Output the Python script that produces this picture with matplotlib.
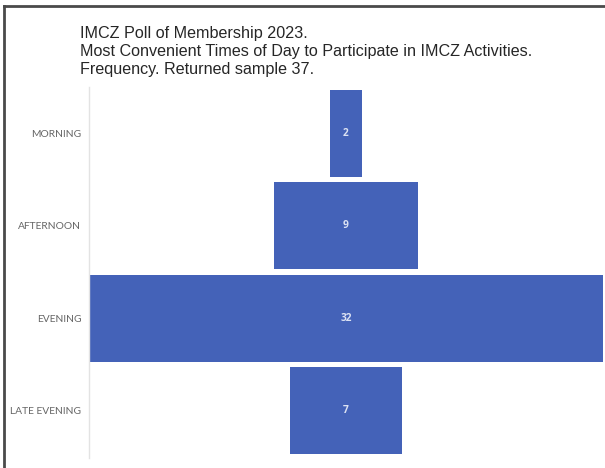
import matplotlib
matplotlib.use("Agg")
import matplotlib.pyplot as plt
from matplotlib.lines import Line2D

categories = ["MORNING", "AFTERNOON", "EVENING", "LATE EVENING"]
values = [2, 9, 32, 7]
title_lines = ["IMCZ Poll of Membership 2023.",
               "Most Convenient Times of Day to Participate in IMCZ Activities.",
               "Frequency. Returned sample 37."]

W, H = 605, 468
fig = plt.figure(figsize=(W / 100, H / 100), dpi=100)
ax = fig.add_axes([89 / W, 1 - 458 / H, (603 - 89) / W, (458 - 87) / H])

color = "#4462B8"
ys = list(range(len(categories)))
ax.barh(ys, values, left=[-v / 2 for v in values], height=0.94, color=color)
for y, v in zip(ys, values):
    ax.text(0, y, str(v), ha="center", va="center", color="#DCE2F3",
            fontsize=7.3, family="Open Sans", fontweight="bold")

ax.set_xlim(-max(values) / 2, max(values) / 2)
ax.set_ylim(3.51, -0.5)
ax.set_yticks(ys)
ax.set_yticklabels(categories, fontsize=7.4, color="#666666", family="Lato")
ax.tick_params(axis="y", length=0, pad=5.5)
ax.set_xticks([])
for s in ["top", "right", "bottom"]:
    ax.spines[s].set_visible(False)
ax.spines["left"].set_color("#E3E3E3")
ax.spines["left"].set_linewidth(1.0)

fig.text(80 / W, 1 - 26 / H, "\n".join(title_lines), ha="left", va="top",
         fontsize=11.6, family="Liberation Sans", color="#262626", linespacing=1.25)

# frame lines (top and left)
fig.add_artist(Line2D([3.5 / W, 1], [1 - 6 / H, 1 - 6 / H], transform=fig.transFigure,
                      color="#4A4A4A", linewidth=2.0))
fig.add_artist(Line2D([3.5 / W, 3.5 / W], [0, 1 - 6 / H], transform=fig.transFigure,
                      color="#4A4A4A", linewidth=2.0))

fig.savefig("out.png", dpi=100)
